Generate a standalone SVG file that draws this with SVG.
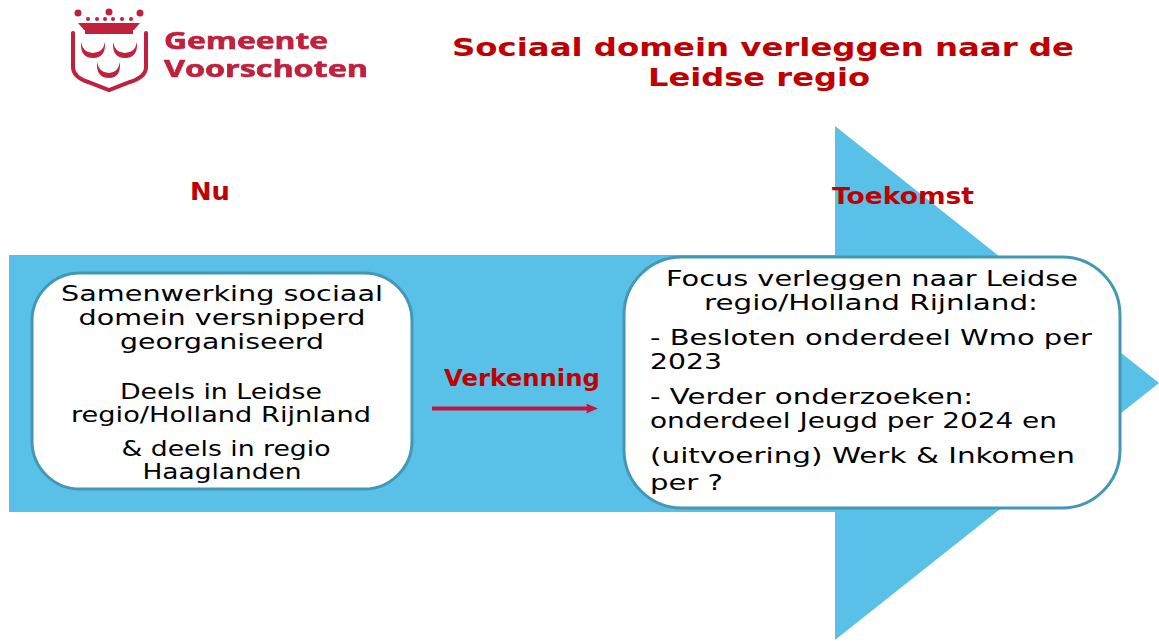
<svg xmlns="http://www.w3.org/2000/svg" width="1159" height="641" viewBox="0 0 1159 641">
<style>
text{font-family:"DejaVu Sans",Verdana,sans-serif;text-anchor:middle}
.b{fill:#000;font-size:21px}
.h{fill:#c00000;font-weight:bold}
.l{text-anchor:start}
.box{fill:#fff;stroke:#4298b5;stroke-width:3}
.logo{fill:none;stroke:#c0203c;stroke-linecap:round}
.dot{fill:#c0203c}
.lt{font-size:23px;font-weight:bold;fill:#c0203c;stroke:#c0203c;stroke-width:.6;font-family:"Open Sans",sans-serif;text-anchor:start}
</style>
<defs>
<marker id="ah" markerUnits="userSpaceOnUse" markerWidth="12" markerHeight="10" refX="2" refY="5" orient="auto"><path d="M0 0L12 5L0 10L2 5z" fill="#c8143c"/></marker>
<filter id="soft" x="-5%" y="-5%" width="110%" height="110%"><feGaussianBlur stdDeviation="0.6"/></filter>
</defs>
<rect width="1159" height="641" fill="#fff"/>
<g id="arrow-bg"><path d="M9 255H835V126L1159 383L835 640V512H9z" fill="#59c0e8"/></g>
<g id="logo" filter="url(#soft)">
<path class="logo" stroke-width="4" d="M73 33V67Q73 77 88 82L109 90L130 82Q146 77 146 67V33"/>
<path class="dot" d="M81 42Q83 53 93 53Q103 53 105 42Q106 58 93 58Q80 58 81 42z"/>
<path class="dot" d="M113 42Q115 53 125 53Q135 53 137 42Q138 58 125 58Q112 58 113 42z"/>
<path class="dot" d="M97 62Q99 73 109 73Q118 73 120 62Q121 78 109 78Q96 78 97 62z"/>
<path class="dot" d="M78 23H140L134 30H84z"/>
<rect class="dot" x="85" y="30" width="48" height="4"/>
<circle class="dot" cx="78" cy="13" r="3.500"/><circle class="dot" cx="109" cy="12" r="3.500"/><circle class="dot" cx="140" cy="13" r="3.500"/>
<circle class="dot" cx="88" cy="19" r="2"/><circle class="dot" cx="97" cy="19" r="2"/><circle class="dot" cx="105" cy="19" r="2"/><circle class="dot" cx="113" cy="19" r="2"/><circle class="dot" cx="122" cy="19" r="2"/><circle class="dot" cx="131" cy="19" r="2"/>
<text x="164" y="49" class="lt" textLength="164" lengthAdjust="spacingAndGlyphs">Gemeente</text>
<text x="164" y="77" class="lt" textLength="204" lengthAdjust="spacingAndGlyphs">Voorschoten</text>
</g>
<g id="title" class="h" font-size="25">
<text x="763" y="56" textLength="622" lengthAdjust="spacingAndGlyphs">Sociaal domein verleggen naar de</text>
<text x="759" y="86" textLength="222" lengthAdjust="spacingAndGlyphs">Leidse regio</text>
</g>
<g id="nu"><text class="h" x="210" y="200" font-size="25" textLength="40" lengthAdjust="spacingAndGlyphs">Nu</text></g>
<g id="toekomst"><text class="h" x="903" y="204" font-size="23" textLength="142" lengthAdjust="spacingAndGlyphs">Toekomst</text></g>
<g id="node-nu">
<rect class="box" x="32" y="273" width="380" height="216" rx="48"/>
<text class="b" x="222" y="301" textLength="322" lengthAdjust="spacingAndGlyphs">Samenwerking sociaal</text>
<text class="b" x="222" y="325" textLength="287" lengthAdjust="spacingAndGlyphs">domein versnipperd</text>
<text class="b" x="222" y="349" textLength="204" lengthAdjust="spacingAndGlyphs">georganiseerd</text>
<text class="b" x="221" y="399" textLength="202" lengthAdjust="spacingAndGlyphs">Deels in Leidse</text>
<text class="b" x="221" y="422" textLength="300" lengthAdjust="spacingAndGlyphs">regio/Holland Rijnland</text>
<text class="b" x="226" y="456" textLength="209" lengthAdjust="spacingAndGlyphs">&amp; deels in regio</text>
<text class="b" x="222" y="479" textLength="159" lengthAdjust="spacingAndGlyphs">Haaglanden</text>
</g>
<g id="node-toekomst">
<rect class="box" x="624" y="257" width="496" height="251" rx="58"/>
<text class="b" x="872" y="286" textLength="412" lengthAdjust="spacingAndGlyphs">Focus verleggen naar Leidse</text>
<text class="b" x="871" y="310" textLength="334" lengthAdjust="spacingAndGlyphs">regio/Holland Rijnland:</text>
<text class="b l" x="650" y="345" textLength="442" lengthAdjust="spacingAndGlyphs">- Besloten onderdeel Wmo per</text>
<text class="b l" x="650" y="369" textLength="72" lengthAdjust="spacingAndGlyphs">2023</text>
<text class="b l" x="650" y="404" textLength="323" lengthAdjust="spacingAndGlyphs">- Verder onderzoeken:</text>
<text class="b l" x="650" y="428" textLength="407" lengthAdjust="spacingAndGlyphs">onderdeel Jeugd per 2024 en</text>
<text class="b l" x="650" y="463" textLength="425" lengthAdjust="spacingAndGlyphs">(uitvoering) Werk &amp; Inkomen</text>
<text class="b l" x="650" y="490" textLength="73" lengthAdjust="spacingAndGlyphs">per ?</text>
</g>
<g id="connectors">
<line x1="432" y1="408.500" x2="588" y2="408.500" stroke="#c8143c" stroke-width="4" marker-end="url(#ah)"/>
<text class="h" x="522" y="386" font-size="23" textLength="156" lengthAdjust="spacingAndGlyphs">Verkenning</text>
</g>
</svg>
